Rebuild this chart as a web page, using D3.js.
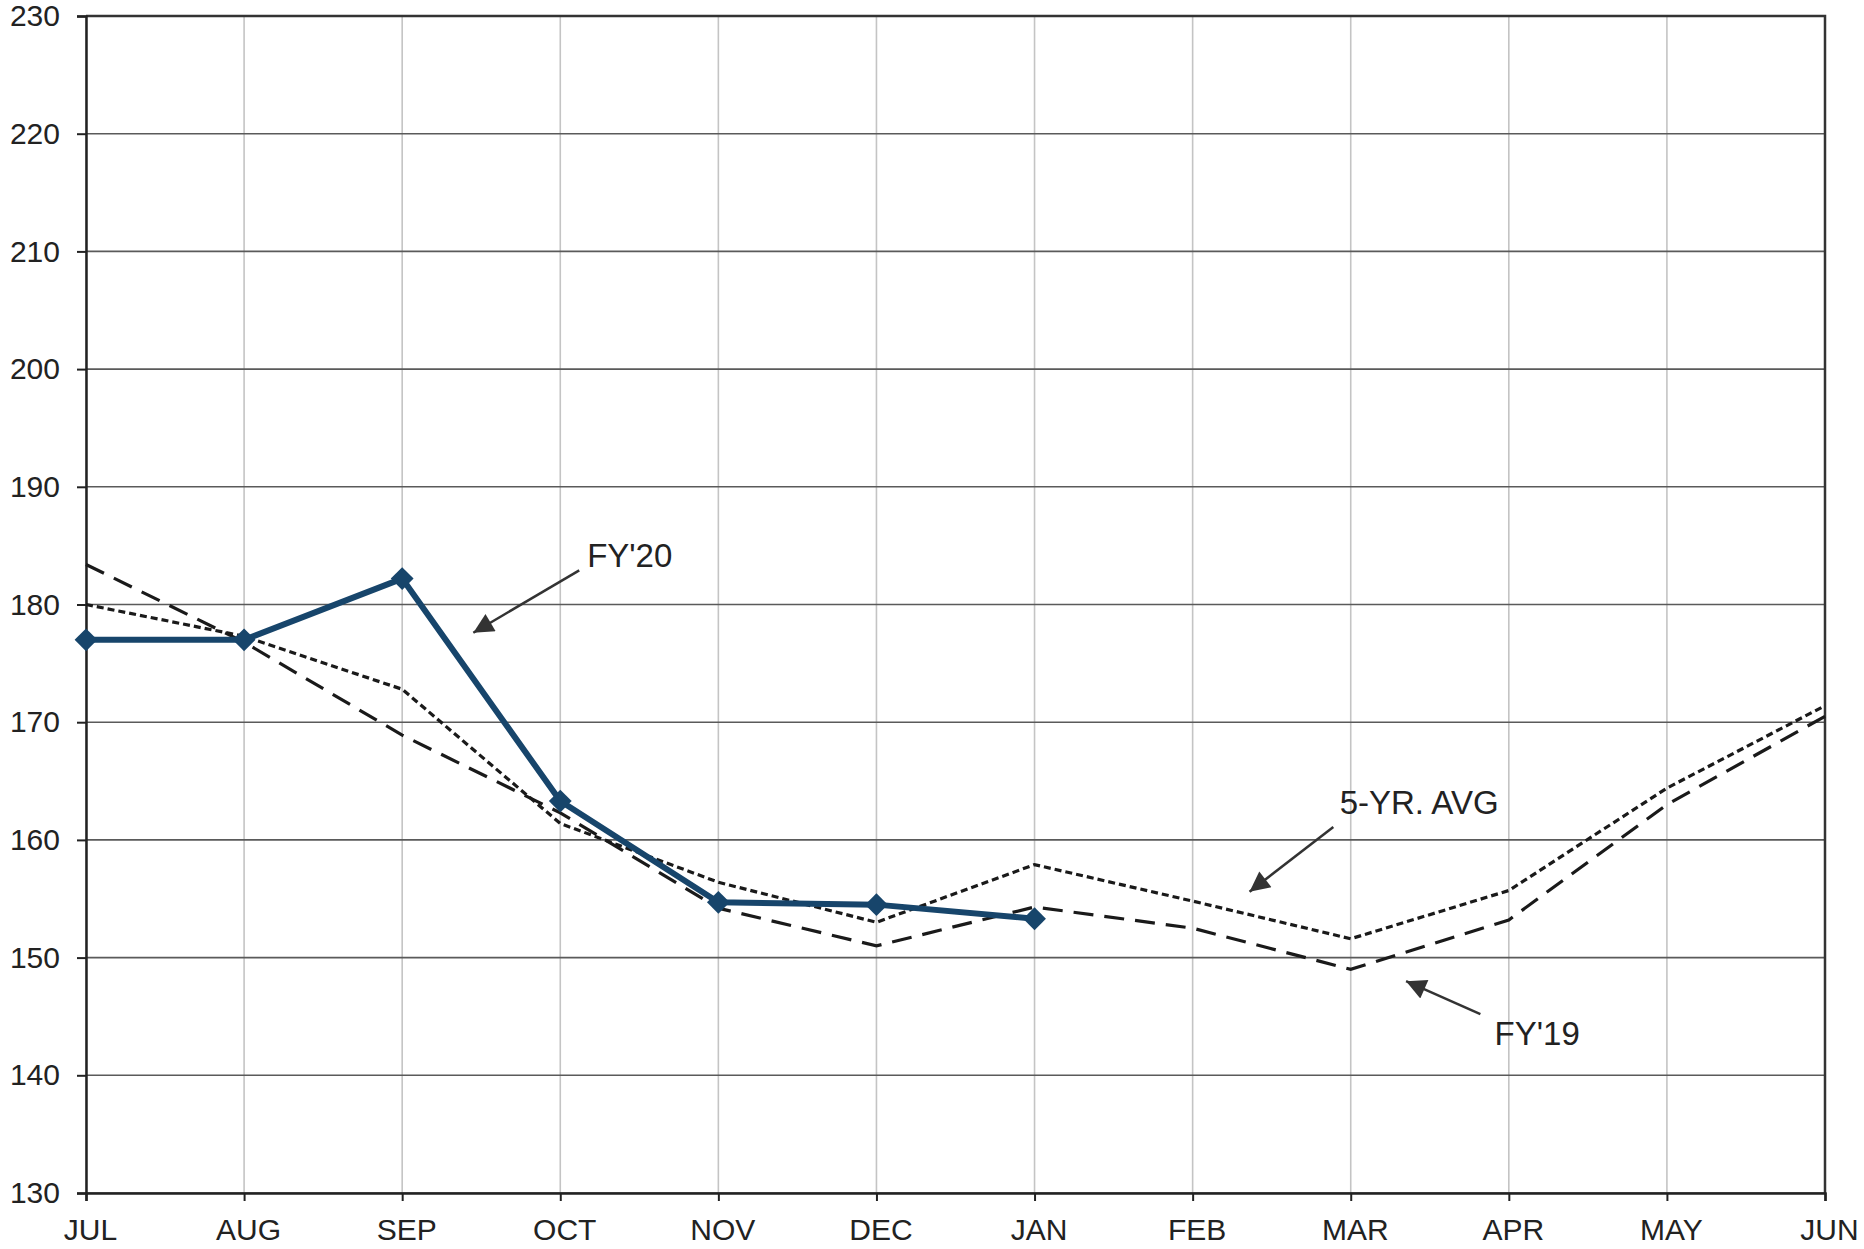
<!DOCTYPE html>
<html>
<head>
<meta charset="utf-8">
<script src="https://cdn.jsdelivr.net/npm/d3@7"></script>
<style>
  body { margin: 0; background: #fff; }
  text { font-family: Arial, "Liberation Sans", sans-serif; fill: #222; }
</style>
</head>
<body>
<div id="container"></div>
<script>
const WIDTH = 1864;
const HEIGHT = 1249;
const MARGIN = { TOP: 16, BOTTOM: 56, LEFT: 86, RIGHT: 39 };

const width = WIDTH - MARGIN.LEFT - MARGIN.RIGHT;
const height = HEIGHT - MARGIN.TOP - MARGIN.BOTTOM;

const MONTHS = ['JUL', 'AUG', 'SEP', 'OCT', 'NOV', 'DEC', 'JAN', 'FEB', 'MAR', 'APR', 'MAY', 'JUN'];
const Y_TICKS = [130, 140, 150, 160, 170, 180, 190, 200, 210, 220, 230];

const FY20 = [177.0, 177.0, 182.2, 163.3, 154.7, 154.5, 153.3];
const AVG5 = [180.0, 177.3, 172.8, 161.4, 156.4, 153.0, 157.9, 154.8, 151.6, 155.7, 164.4, 171.4];
const FY19 = [183.4, 176.8, 168.9, 162.3, 154.2, 151.0, 154.3, 152.5, 149.0, 153.2, 163.0, 170.5];

// annotations: label, text position, arrow start -> arrow tip (month index, value)
const NOTES = [
    { label: "FY'20", tx: 3.17, ty: 183.2, x1: 3.12, y1: 182.9, x2: 2.45, y2: 177.6 },
    { label: '5-YR. AVG', tx: 7.93, ty: 162.2, x1: 7.89, y1: 161.1, x2: 7.36, y2: 155.6 },
    { label: "FY'19", tx: 8.91, ty: 142.6, x1: 8.82, y1: 145.2, x2: 8.35, y2: 148.0 }
];

const svg = d3.select('#container')
              .append('svg')
                .attr('width', WIDTH)
                .attr('height', HEIGHT);

svg.append('defs')
   .append('marker')
     .attr('id', 'arrow')
     .attr('viewBox', '0 0 10 10')
     .attr('refX', 10)
     .attr('refY', 5)
     .attr('markerUnits', 'userSpaceOnUse')
     .attr('markerWidth', 30)
     .attr('markerHeight', 20)
     .attr('orient', 'auto')
   .append('path')
     .attr('d', 'M0,0 L10,5 L0,10 Z')
     .attr('fill', '#333');

const container = svg.append('g')
                     .attr('transform', `translate(${MARGIN.LEFT}, ${MARGIN.TOP})`);

const xscale = d3.scaleLinear()
                 .domain([0, MONTHS.length - 1])
                 .range([0, width]);

const yscale = d3.scaleLinear()
                 .domain([130, 230])
                 .range([height, 0]);

// vertical grid
container.append('g')
         .selectAll('line')
         .data(MONTHS)
         .enter()
         .append('line')
           .attr('x1', (d, i) => xscale(i))
           .attr('x2', (d, i) => xscale(i))
           .attr('y1', 0)
           .attr('y2', height)
           .attr('stroke', '#c4c4c4')
           .attr('stroke-width', 1.6);

// horizontal grid
container.append('g')
         .selectAll('line')
         .data(Y_TICKS)
         .enter()
         .append('line')
           .attr('x1', 0)
           .attr('x2', width)
           .attr('y1', d => yscale(d))
           .attr('y2', d => yscale(d))
           .attr('stroke', '#5a5a5a')
           .attr('stroke-width', 1.6);

// frame: top and right
container.append('path')
         .attr('d', `M0,0 H${width} V${height}`)
         .attr('fill', 'none')
         .attr('stroke', '#333')
         .attr('stroke-width', 2.5);

const axisLeft = d3.axisLeft(yscale)
                   .tickValues(Y_TICKS)
                   .tickSize(9)
                   .tickPadding(17);

const axisBottom = d3.axisBottom(xscale)
                     .tickValues(d3.range(MONTHS.length))
                     .tickFormat(i => MONTHS[i])
                     .tickSize(8)
                     .tickPadding(10);

const gy = container.append('g').call(axisLeft);
const gx = container.append('g')
                    .attr('transform', `translate(0, ${height})`)
                    .call(axisBottom);

[gy, gx].forEach(g => {
    g.select('.domain').attr('stroke', '#222').attr('stroke-width', 2.5);
    g.selectAll('.tick line').attr('stroke', '#222').attr('stroke-width', 2);
    g.selectAll('.tick text')
     .attr('fill', '#222')
     .style('font-family', 'Arial, "Liberation Sans", sans-serif')
     .style('font-size', '30px');
});
gx.selectAll('.tick text').attr('dy', '0.95em').attr('dx', 4);

const line = d3.line()
               .x((d, i) => xscale(i))
               .y(d => yscale(d));

container.append('path')
         .datum(FY19)
         .attr('d', line)
         .attr('fill', 'none')
         .attr('stroke', '#1a1a1a')
         .attr('stroke-width', 3.2)
         .attr('stroke-dasharray', '20,11');

container.append('path')
         .datum(AVG5)
         .attr('d', line)
         .attr('fill', 'none')
         .attr('stroke', '#1a1a1a')
         .attr('stroke-width', 3.2)
         .attr('stroke-dasharray', '7,4');

container.append('path')
         .datum(FY20)
         .attr('d', line)
         .attr('fill', 'none')
         .attr('stroke', '#17456b')
         .attr('stroke-width', 6)
         .attr('stroke-linejoin', 'round');

container.selectAll('.marker')
         .data(FY20)
         .enter()
         .append('path')
           .attr('class', 'marker')
           .attr('d', d3.symbol(d3.symbolSquare, 260))
           .attr('transform', (d, i) => `translate(${xscale(i)}, ${yscale(d)}) rotate(45)`)
           .attr('fill', '#17456b');

// annotations
const notes = container.append('g');

notes.selectAll('line')
     .data(NOTES)
     .enter()
     .append('line')
       .attr('x1', d => xscale(d.x1))
       .attr('y1', d => yscale(d.y1))
       .attr('x2', d => xscale(d.x2))
       .attr('y2', d => yscale(d.y2))
       .attr('stroke', '#333')
       .attr('stroke-width', 2.5)
       .attr('marker-end', 'url(#arrow)');

notes.selectAll('text')
     .data(NOTES)
     .enter()
     .append('text')
       .attr('x', d => xscale(d.tx))
       .attr('y', d => yscale(d.ty))
       .style('font-size', '33px')
       .text(d => d.label);
</script>
</body>
</html>
